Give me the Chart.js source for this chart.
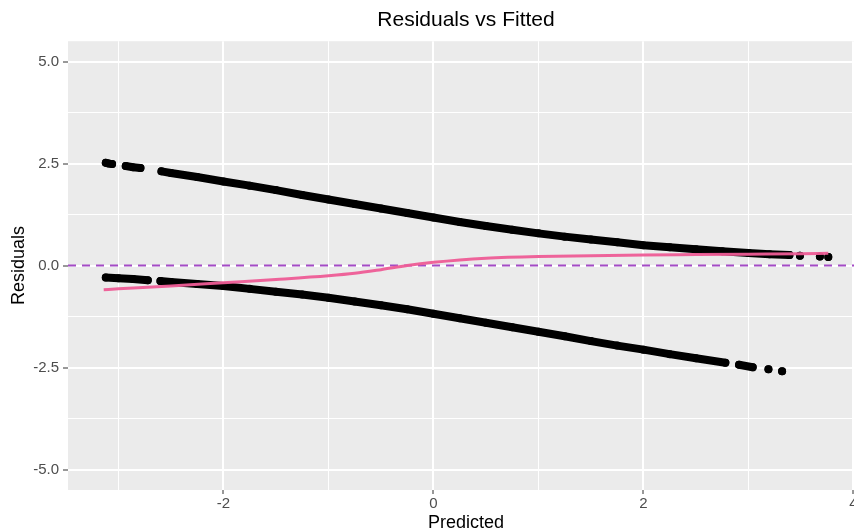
<!DOCTYPE html>
<html><head><meta charset="utf-8">
<script src="https://cdn.jsdelivr.net/npm/chart.js@4.4.1/dist/chart.umd.min.js"></script>
<style>
html,body{margin:0;padding:0;background:#ffffff;overflow:hidden;width:854px;height:532px}
#wrap{width:868px;height:532px}
</style></head>
<body><div id="wrap"><canvas id="c" width="868" height="532"></canvas></div>
<script>
// ---- text ----
const chartTitle = 'Residuals vs Fitted';
const xTitle = 'Predicted';
const yTitle = 'Residuals';

// ---- axes ----
const xLimits = [-3.48, 4.1];
const yLimits = [-5.5, 5.5];
const xTickValues = [-3, -2, -1, 0, 1, 2, 3, 4];
const xTickLabels = ['', '-2', '', '0', '', '2', '', '4'];
const yTickValues = [-5, -3.75, -2.5, -1.25, 0, 1.25, 2.5, 3.75, 5];
const yTickLabels = ['-5.0', '', '-2.5', '', '0.0', '', '2.5', '', '5.0'];

// ---- upper band of residuals (null = gap between runs of points) ----
const upperX = [-3.12, -3.09, -3.06, null, -2.93, -2.86, -2.79, null,
  -2.59, -2.5, -2.25, -2.0, -1.75, -1.5, -1.25, -1.0, -0.75, -0.5, -0.25, 0, 0.25, 0.5, 0.75,
  1.0, 1.25, 1.5, 1.75, 2.0, 2.25, 2.5, 2.75, 3.0, 3.2, 3.39, null, 3.49, null, 3.68, null, 3.76];
const upperY = [2.52, 2.50, 2.49, null, 2.44, 2.41, 2.39, null,
  2.31, 2.27, 2.17, 2.06, 1.96, 1.85, 1.73, 1.62, 1.51, 1.40, 1.29, 1.18, 1.07, 0.97, 0.88,
  0.79, 0.71, 0.64, 0.57, 0.50, 0.45, 0.40, 0.35, 0.31, 0.28, 0.26, null, 0.24, null, 0.22, null, 0.21];

// ---- lower band of residuals ----
const lowerX = [-3.12, -3.0, -2.86, -2.72, null,
  -2.60, -2.5, -2.25, -2.0, -1.75, -1.5, -1.25, -1.0, -0.75, -0.5, -0.25, 0, 0.25, 0.5, 0.75,
  1.0, 1.25, 1.5, 1.75, 2.0, 2.25, 2.5, 2.78, null, 2.91, 3.04, null, 3.19, null, 3.32];
const lowerY = [-0.29, -0.31, -0.33, -0.36, null,
  -0.38, -0.40, -0.45, -0.50, -0.57, -0.64, -0.71, -0.79, -0.88, -0.97, -1.07, -1.18, -1.29, -1.40, -1.51,
  -1.62, -1.73, -1.85, -1.96, -2.06, -2.17, -2.27, -2.38, null, -2.43, -2.49, null, -2.54, null, -2.59];

// ---- smooth (loess) line ----
const smoothX = [-3.14, -3.0, -2.5, -2.0, -1.5, -1.0, -0.75, -0.5, -0.25, 0, 0.25, 0.5, 1.0, 1.5, 2.0, 2.5, 3.0, 3.5, 3.76];
const smoothY = [-0.59, -0.57, -0.50, -0.42, -0.34, -0.25, -0.19, -0.10, 0.0, 0.08, 0.14, 0.18, 0.22, 0.24, 0.26, 0.27, 0.28, 0.29, 0.30];

// ---- reference line ----
const refLineY = 0;

const zip = (xs, ys) => xs.map((x, i) => (x === null ? {x: NaN, y: null} : {x: x, y: ys[i]}));

Chart.defaults.font.family = "'Liberation Sans', Arial, Helvetica, sans-serif";

const panelBg = {
  id: 'panelBg',
  beforeDraw(chart) {
    const {ctx, chartArea: a} = chart;
    ctx.save();
    ctx.fillStyle = '#ebebeb';
    ctx.fillRect(a.left, a.top, a.right - a.left, a.bottom - a.top);
    ctx.restore();
  }
};

const bandStyle = {
  type: 'scatter', showLine: true, spanGaps: false,
  borderColor: '#000000', backgroundColor: '#000000',
  borderWidth: 8, borderCapStyle: 'round', borderJoinStyle: 'round',
  pointRadius: 4, pointBorderWidth: 0, pointHoverRadius: 4, order: 2
};

new Chart(document.getElementById('c'), {
  type: 'scatter',
  data: {
    datasets: [
      Object.assign({label: 'upper', data: zip(upperX, upperY)}, bandStyle),
      Object.assign({label: 'lower', data: zip(lowerX, lowerY)}, bandStyle),
      {label: 'zero', type: 'line', data: [{x: xLimits[0], y: refLineY}, {x: xLimits[1], y: refLineY}],
       borderColor: '#a34bc5', borderWidth: 2, borderDash: [8, 6], pointRadius: 0, order: 1},
      {label: 'smooth', type: 'line', data: zip(smoothX, smoothY),
       borderColor: 'rgba(238,92,150,0.95)', borderWidth: 3, pointRadius: 0,
       cubicInterpolationMode: 'monotone', order: 0}
    ]
  },
  options: {
    responsive: false, animation: false, devicePixelRatio: 1,
    layout: {padding: 0},
    plugins: {
      legend: {display: false}, tooltip: {enabled: false},
      title: {display: true, text: chartTitle, fullSize: false, color: '#000000',
        font: {size: 21, weight: 'normal', lineHeight: 1.2}, padding: {top: 8, bottom: 8}}
    },
    scales: {
      x: {
        type: 'linear', min: xLimits[0], max: xLimits[1],
        afterBuildTicks: s => { s.ticks = xTickValues.map(v => ({value: v})); },
        afterFit: s => { s.height = 42; },
        border: {display: false},
        grid: {color: '#ffffff', lineWidth: c => (xTickLabels[c.index] === '' ? 1 : 2),
          tickLength: 4, tickWidth: 1,
          tickColor: c => (xTickLabels[c.index] === '' ? 'rgba(0,0,0,0)' : '#333333')},
        ticks: {autoSkip: false, maxRotation: 0, padding: 1, color: '#4d4d4d', font: {size: 15},
          callback: (v, i) => xTickLabels[i]},
        title: {display: true, text: xTitle, color: '#000000', font: {size: 18, lineHeight: 1},
          padding: {top: 0, bottom: 0}}
      },
      y: {
        type: 'linear', min: yLimits[0], max: yLimits[1],
        afterBuildTicks: s => { s.ticks = yTickValues.map(v => ({value: v})); },
        afterFit: s => { s.width = 68; },
        border: {display: false},
        grid: {color: '#ffffff', lineWidth: c => (yTickLabels[c.index] === '' ? 1 : 2),
          tickLength: 5, tickWidth: 1,
          tickColor: c => (yTickLabels[c.index] === '' ? 'rgba(0,0,0,0)' : '#333333')},
        ticks: {autoSkip: false, padding: 4, color: '#4d4d4d', font: {size: 15},
          callback: (v, i) => yTickLabels[i]},
        title: {display: true, text: yTitle, color: '#000000', font: {size: 18, lineHeight: 1},
          padding: {top: 10, bottom: 0}}
      }
    }
  },
  plugins: [panelBg]
});
</script>
</body></html>
